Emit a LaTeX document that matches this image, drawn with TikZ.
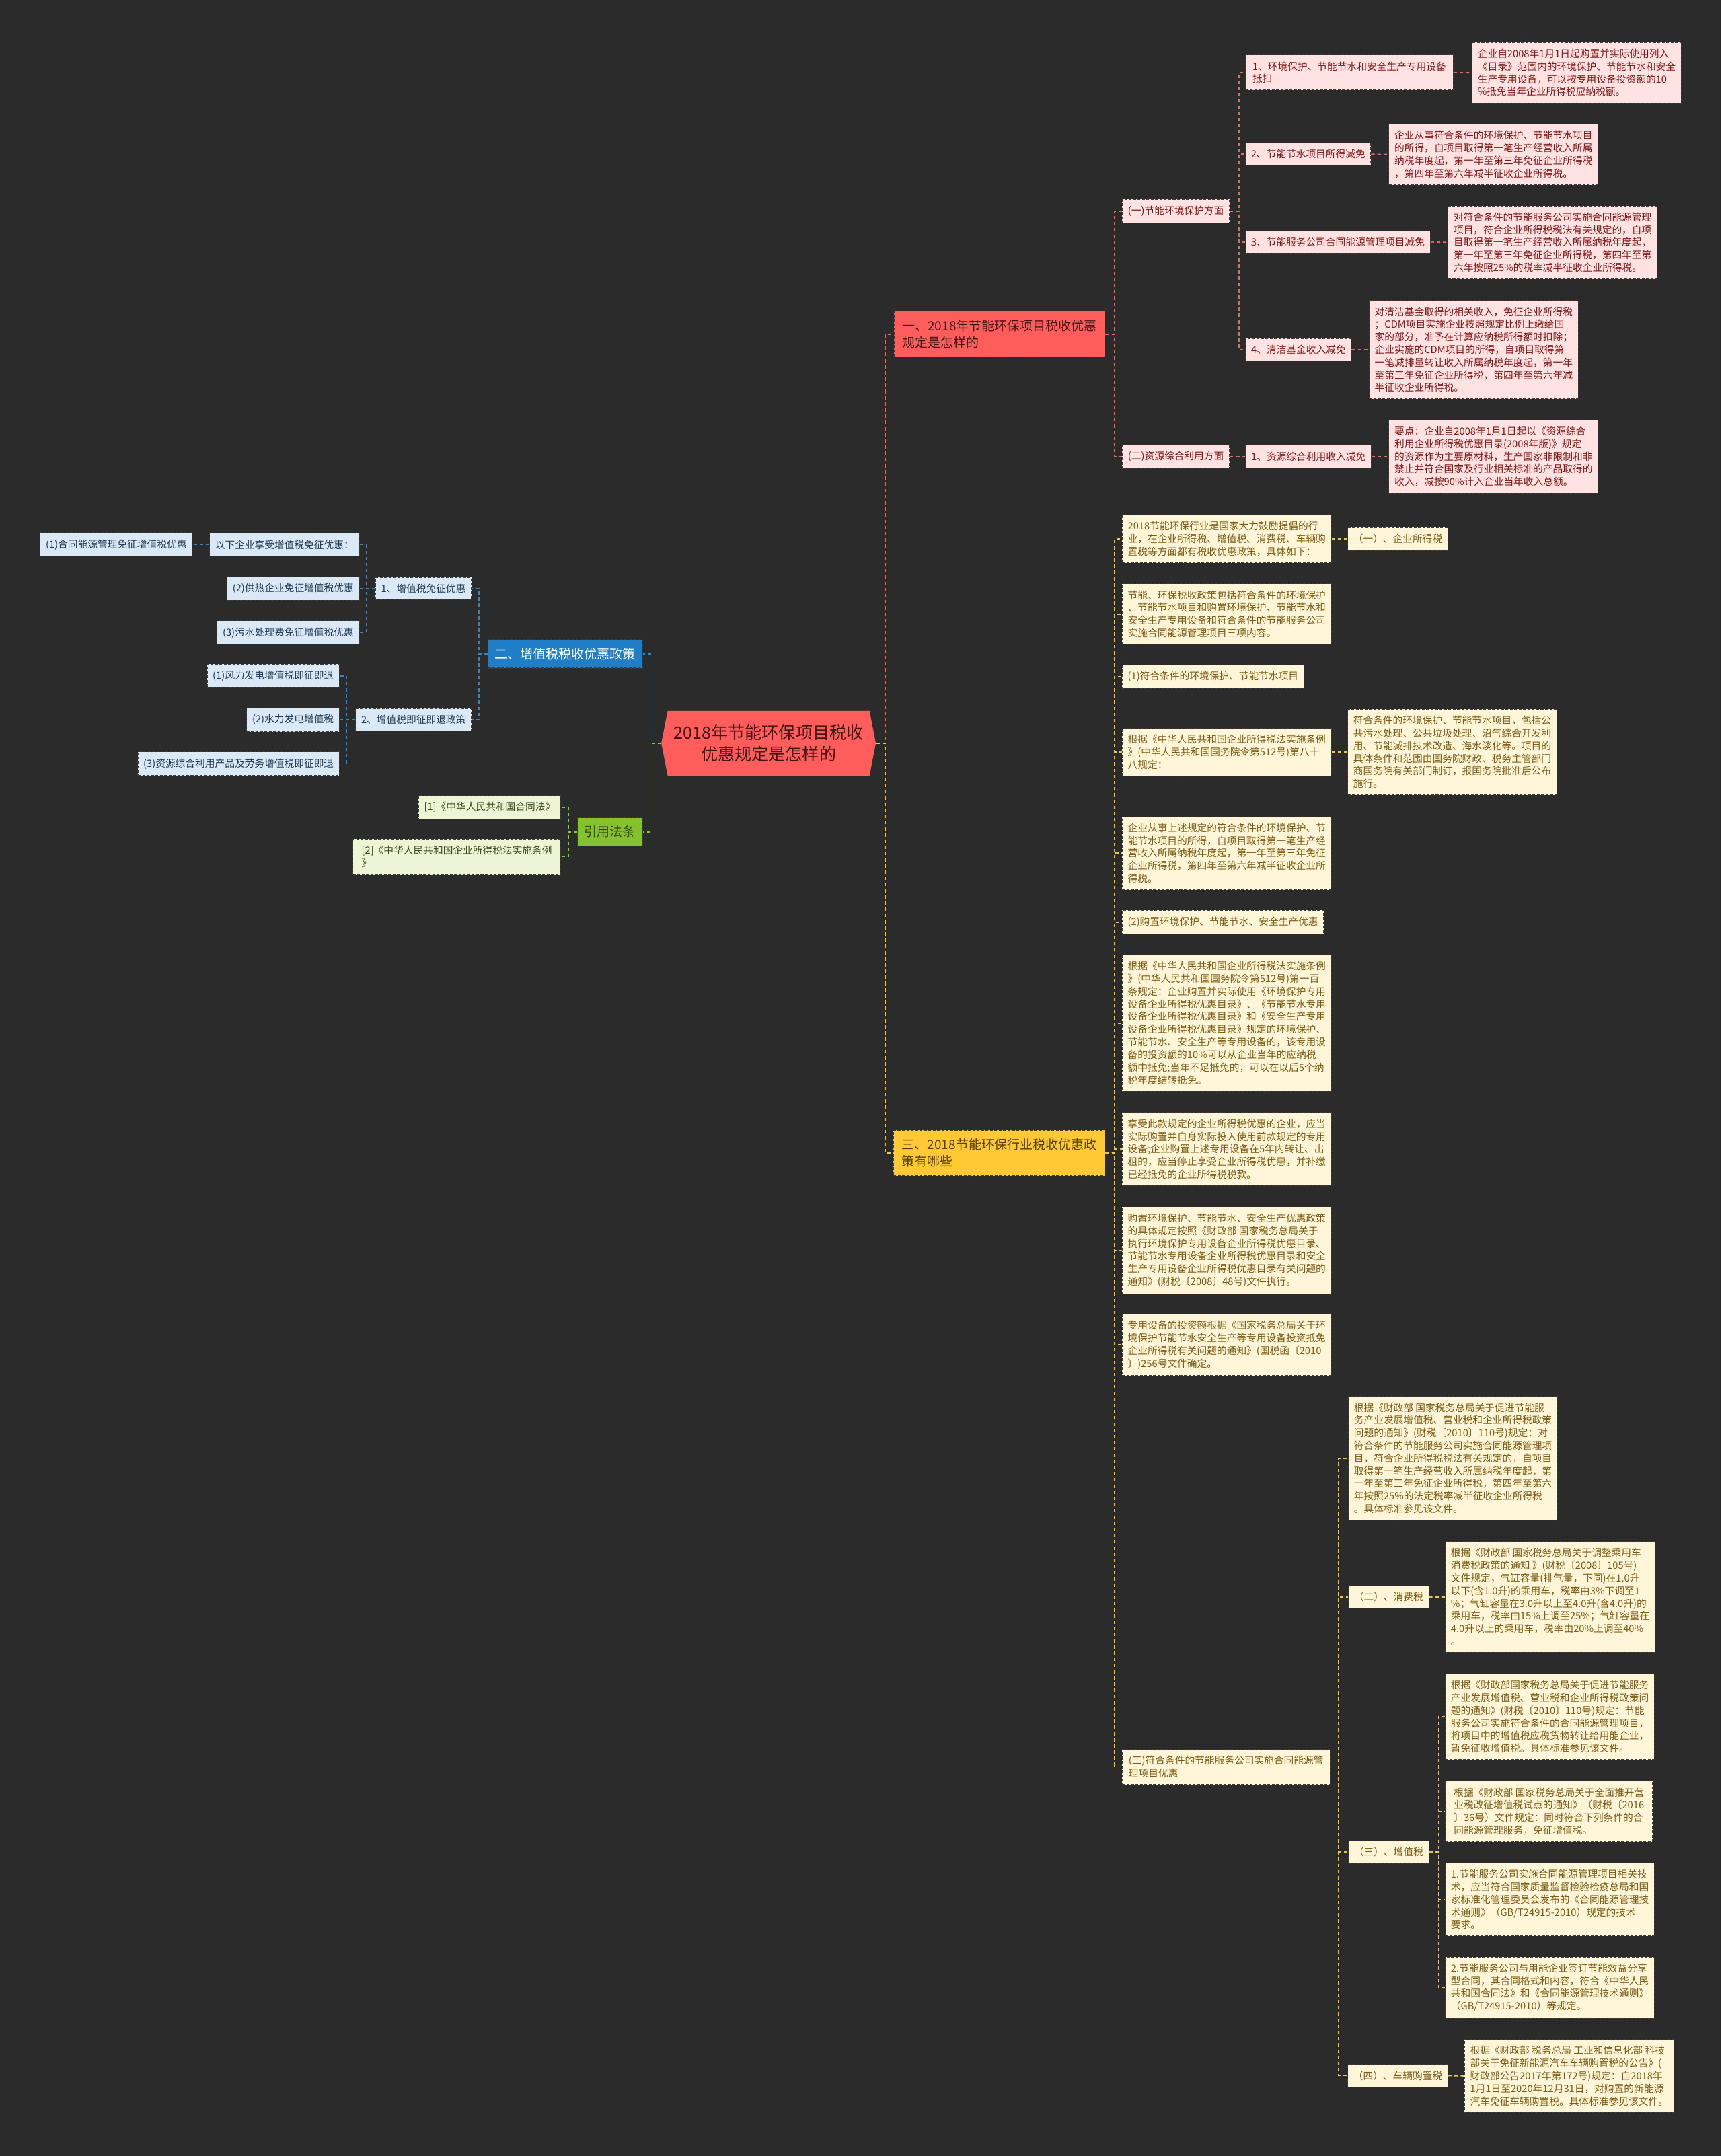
\documentclass[tikz,border=0pt]{standalone}
\usepackage{fontspec}
\setmainfont{Noto Sans CJK SC}
\usepackage{tikz}
\usetikzlibrary{shapes.symbols}

\definecolor{bgdark}{HTML}{2B2B2B}
\definecolor{boxedge}{HTML}{3A3A3A}
\definecolor{rootfill}{HTML}{FF5C5C}
\definecolor{rootink}{HTML}{3E1414}
\definecolor{pinkfill}{HTML}{FFE3E3}
\definecolor{pinkink}{HTML}{7E1818}
\definecolor{pinkline}{HTML}{E36A6A}
\definecolor{bluetop}{HTML}{1F7EC7}
\definecolor{bluefill}{HTML}{DAE9F5}
\definecolor{blueink}{HTML}{1E3A56}
\definecolor{blueline}{HTML}{2E86CC}
\definecolor{greentop}{HTML}{86C22F}
\definecolor{greenfill}{HTML}{EEF5D6}
\definecolor{greenink}{HTML}{3A4A18}
\definecolor{greenline}{HTML}{8DC63F}
\definecolor{yellowtop}{HTML}{FFC935}
\definecolor{yellowfill}{HTML}{FFF6DA}
\definecolor{yellowink}{HTML}{7A5B12}
\definecolor{yellowline}{HTML}{EAC64A}

\newcommand{\leaftext}{\fontsize{7.2}{9.2}\selectfont}
\newcommand{\topictext}{\fontsize{9.3}{12.5}\selectfont}
\newcommand{\roottext}{\fontsize{12.3}{15.5}\selectfont}

\begin{document}
\begin{tikzpicture}[
        x=1pt, y=-1pt,
        box/.style={rectangle, draw=boxedge, dash pattern=on 2pt off 1.2pt, line width=0.5pt,
            inner xsep=4pt, inner ysep=4.8pt, align=left, font=\leaftext},
        pinkbox/.style={box, fill=pinkfill, text=pinkink},
        bluebox/.style={box, fill=bluefill, text=blueink},
        greenbox/.style={box, fill=greenfill, text=greenink},
        yellowbox/.style={box, fill=yellowfill, text=yellowink},
        topic/.style={box, inner xsep=5pt, inner ysep=6pt, font=\topictext},
        rootbox/.style={shape=signal, signal to=east and west, signal pointer angle=158,
            fill=rootfill, text=rootink, font=\roottext, align=center,
            minimum width=156, minimum height=47, inner sep=2pt},
        link/.style={line width=0.9pt, dash pattern=on 2.5pt off 2pt},
        pinklink/.style={link, draw=pinkline},
        bluelink/.style={link, draw=blueline},
        greenlink/.style={link, draw=greenline},
        yellowlink/.style={link, draw=yellowline}
    ]
        \fill[bgdark] (0,0) rectangle (1252,1568);
        \useasboundingbox (0,0) rectangle (1252,1568);

        % centre
        \node[rootbox] (root) at (559,540.5) {2018年节能环保项目税收\\优惠规定是怎样的};

        % main branches
        \node[topic, fill=rootfill, text=rootink, minimum width=153.5, anchor=west] (b1) at (650,243) {一、2018年节能环保项目税收优惠\\规定是怎样的};
        \node[topic, fill=yellowtop, text=yellowink!70!black, minimum width=154, anchor=west] (b3) at (649.5,838.5) {三、2018节能环保行业税收优惠政\\策有哪些};
        \node[topic, fill=bluetop, text=white, minimum width=111, anchor=east] (b2) at (467.5,475.5) {二、增值税税收优惠政策};
        \node[topic, fill=greentop, text=greenink, minimum width=46.5, anchor=east] (b4) at (467.5,605) {引用法条};

        % branch 1
        \node[pinkbox, minimum width=78, anchor=west] (s1) at (816,153.6) {(一)节能环境保护方面};
        \node[pinkbox, minimum width=78, anchor=west] (s2) at (816,332) {(二)资源综合利用方面};

        \node[pinkbox, minimum width=151, anchor=west] (n11) at (905.6,52.8) {1、环境保护、节能节水和安全生产专用设备\\抵扣};
        \node[pinkbox, minimum width=150.5, anchor=west] (l11) at (1070.5,52.9) {企业自2008年1月1日起购置并实际使用列入\\《目录》范围内的环境保护、节能节水和安全\\生产专用设备，可以按专用设备投资额的10\\\%抵免当年企业所得税应纳税额。};
        \node[pinkbox, minimum width=91, anchor=west] (n12) at (905.6,112.2) {2、节能节水项目所得减免};
        \node[pinkbox, minimum width=151, anchor=west] (l12) at (1010,112.3) {企业从事符合条件的环境保护、节能节水项目\\的所得，自项目取得第一笔生产经营收入所属\\纳税年度起，第一年至第三年免征企业所得税\\，第四年至第六年减半征收企业所得税。};
        \node[pinkbox, minimum width=134, anchor=west] (n13) at (905.6,176) {3、节能服务公司合同能源管理项目减免};
        \node[pinkbox, minimum width=150.7, anchor=west] (l13) at (1053,176.3) {对符合条件的节能服务公司实施合同能源管理\\项目，符合企业所得税税法有关规定的，自项\\目取得第一笔生产经营收入所属纳税年度起，\\第一年至第三年免征企业所得税，第四年至第\\六年按照25\%的税率减半征收企业所得税。};
        \node[pinkbox, minimum width=76, anchor=west] (n14) at (905.8,254.3) {4、清洁基金收入减免};
        \node[pinkbox, minimum width=150.4, anchor=west] (l14) at (995.6,254.3) {对清洁基金取得的相关收入，免征企业所得税\\；CDM项目实施企业按照规定比例上缴给国\\家的部分，准予在计算应纳税所得额时扣除；\\企业实施的CDM项目的所得，自项目取得第\\一笔减排量转让收入所属纳税年度起，第一年\\至第三年免征企业所得税，第四年至第六年减\\半征收企业所得税。};
        \node[pinkbox, minimum width=91, anchor=west] (n21) at (905.8,332) {1、资源综合利用收入减免};
        \node[pinkbox, minimum width=151, anchor=west] (l21) at (1010,332) {要点：企业自2008年1月1日起以《资源综合\\利用企业所得税优惠目录(2008年版)》规定\\的资源作为主要原材料，生产国家非限制和非\\禁止并符合国家及行业相关标准的产品取得的\\收入，减按90\%计入企业当年收入总额。};

        % branch 2
        \node[bluebox, minimum width=69, anchor=east] (v1) at (343,428) {1、增值税免征优惠};
        \node[bluebox, minimum width=83, anchor=east] (v2) at (343,523.5) {2、增值税即征即退政策};
        \node[bluebox, minimum width=108.5, anchor=east] (v11) at (261.5,396) {以下企业享受增值税免征优惠：};
        \node[bluebox, minimum width=95.5, anchor=east] (v12) at (261.5,428) {(2)供热企业免征增值税优惠};
        \node[bluebox, minimum width=103, anchor=east] (v13) at (261.5,460) {(3)污水处理费免征增值税优惠};
        \node[bluebox, minimum width=110, anchor=east] (v111) at (140,396) {(1)合同能源管理免征增值税优惠};
        \node[bluebox, minimum width=96, anchor=east] (v21) at (247,491.5) {(1)风力发电增值税即征即退};
        \node[bluebox, minimum width=67, anchor=east] (v22) at (247,523.5) {(2)水力发电增值税};
        \node[bluebox, minimum width=146, anchor=east] (v23) at (247,555.5) {(3)资源综合利用产品及劳务增值税即征即退};

        % cited laws
        \node[greenbox, minimum width=103, anchor=east] (g1) at (408,587) {[1]《中华人民共和国合同法》};
        \node[greenbox, minimum width=151, anchor=east] (g2) at (408,623) {[2]《中华人民共和国企业所得税法实施条例\\》};

        % branch 3
        \node[yellowbox, minimum width=151, anchor=west] (c1) at (816,392) {2018节能环保行业是国家大力鼓励提倡的行\\业，在企业所得税、增值税、消费税、车辆购\\置税等方面都有税收优惠政策，具体如下：};
        \node[yellowbox, minimum width=72, anchor=west] (c1a) at (980,392) {（一）、企业所得税};
        \node[yellowbox, minimum width=151, anchor=west] (c2) at (816,446.5) {节能、环保税收政策包括符合条件的环境保护\\、节能节水项目和购置环境保护、节能节水和\\安全生产专用设备和符合条件的节能服务公司\\实施合同能源管理项目三项内容。};
        \node[yellowbox, minimum width=131, anchor=west] (c3) at (816,492) {(1)符合条件的环境保护、节能节水项目};
        \node[yellowbox, minimum width=151, anchor=west] (c4) at (816,547) {根据《中华人民共和国企业所得税法实施条例\\》(中华人民共和国国务院令第512号)第八十\\八规定：};
        \node[yellowbox, minimum width=151, anchor=west] (c4a) at (980,547) {符合条件的环境保护、节能节水项目，包括公\\共污水处理、公共垃圾处理、沼气综合开发利\\用、节能减排技术改造、海水淡化等。项目的\\具体条件和范围由国务院财政、税务主管部门\\商国务院有关部门制订，报国务院批准后公布\\施行。};
        \node[yellowbox, minimum width=151, anchor=west] (c5) at (816,620.5) {企业从事上述规定的符合条件的环境保护、节\\能节水项目的所得，自项目取得第一笔生产经\\营收入所属纳税年度起，第一年至第三年免征\\企业所得税，第四年至第六年减半征收企业所\\得税。};
        \node[yellowbox, minimum width=146, anchor=west] (c6) at (816,670.7) {(2)购置环境保护、节能节水、安全生产优惠};
        \node[yellowbox, minimum width=151, anchor=west] (c7) at (816,744) {根据《中华人民共和国企业所得税法实施条例\\》(中华人民共和国国务院令第512号)第一百\\条规定：企业购置并实际使用《环境保护专用\\设备企业所得税优惠目录》、《节能节水专用\\设备企业所得税优惠目录》和《安全生产专用\\设备企业所得税优惠目录》规定的环境保护、\\节能节水、安全生产等专用设备的，该专用设\\备的投资额的10\%可以从企业当年的应纳税\\额中抵免;当年不足抵免的，可以在以后5个纳\\税年度结转抵免。};
        \node[yellowbox, minimum width=151, anchor=west] (c8) at (816,835.7) {享受此款规定的企业所得税优惠的企业，应当\\实际购置并自身实际投入使用前款规定的专用\\设备;企业购置上述专用设备在5年内转让、出\\租的，应当停止享受企业所得税优惠，并补缴\\已经抵免的企业所得税税款。};
        \node[yellowbox, minimum width=151, anchor=west] (c9) at (816,909.3) {购置环境保护、节能节水、安全生产优惠政策\\的具体规定按照《财政部 国家税务总局关于\\执行环境保护专用设备企业所得税优惠目录、\\节能节水专用设备企业所得税优惠目录和安全\\生产专用设备企业所得税优惠目录有关问题的\\通知》(财税〔2008〕48号)文件执行。};
        \node[yellowbox, minimum width=151, anchor=west] (c10) at (816,978) {专用设备的投资额根据《国家税务总局关于环\\境保护节能节水安全生产等专用设备投资抵免\\企业所得税有关问题的通知》(国税函〔2010\\〕)256号文件确定。};
        \node[yellowbox, minimum width=151, anchor=west] (c11) at (816,1285) {(三)符合条件的节能服务公司实施合同能源管\\理项目优惠};

        \node[yellowbox, minimum width=150, anchor=west] (d1) at (980.5,1060.5) {根据《财政部 国家税务总局关于促进节能服\\务产业发展增值税、营业税和企业所得税政策\\问题的通知》(财税〔2010〕110号)规定：对\\符合条件的节能服务公司实施合同能源管理项\\目，符合企业所得税税法有关规定的，自项目\\取得第一笔生产经营收入所属纳税年度起，第\\一年至第三年免征企业所得税，第四年至第六\\年按照25\%的法定税率减半征收企业所得税\\。具体标准参见该文件。};
        \node[yellowbox, minimum width=57, anchor=west] (d2) at (980.5,1161.5) {（二）、消费税};
        \node[yellowbox, minimum width=150.7, anchor=west] (d2a) at (1051,1161.4) {根据《财政部 国家税务总局关于调整乘用车\\消费税政策的通知 》(财税〔2008〕105号)\\文件规定，气缸容量(排气量，下同)在1.0升\\以下(含1.0升)的乘用车，税率由3\%下调至1\\\%；气缸容量在3.0升以上至4.0升(含4.0升)的\\乘用车，税率由15\%上调至25\%；气缸容量在\\4.0升以上的乘用车，税率由20\%上调至40\%\\。};
        \node[yellowbox, minimum width=57, anchor=west] (d3) at (980.5,1347) {（三）、增值税};
        \node[yellowbox, minimum width=150.7, anchor=west] (e1) at (1051,1248.6) {根据《财政部国家税务总局关于促进节能服务\\产业发展增值税、营业税和企业所得税政策问\\题的通知》(财税〔2010〕110号)规定：节能\\服务公司实施符合条件的合同能源管理项目，\\将项目中的增值税应税货物转让给用能企业，\\暂免征收增值税。具体标准参见该文件。};
        \node[yellowbox, minimum width=150.7, anchor=west] (e2) at (1051,1317.4) {根据《财政部 国家税务总局关于全面推开营\\业税改征增值税试点的通知》（财税〔2016\\〕36号）文件规定：同时符合下列条件的合\\同能源管理服务，免征增值税。};
        \node[yellowbox, minimum width=150.7, anchor=west] (e3) at (1051,1381.4) {1.节能服务公司实施合同能源管理项目相关技\\术，应当符合国家质量监督检验检疫总局和国\\家标准化管理委员会发布的《合同能源管理技\\术通则》（GB/T24915-2010）规定的技术\\要求。};
        \node[yellowbox, minimum width=150.7, anchor=west] (e4) at (1051,1445.5) {2.节能服务公司与用能企业签订节能效益分享\\型合同，其合同格式和内容，符合《中华人民\\共和国合同法》和《合同能源管理技术通则》\\（GB/T24915-2010）等规定。};
        \node[yellowbox, minimum width=72, anchor=west] (d4) at (980,1509.5) {（四）、车辆购置税};
        \node[yellowbox, minimum width=151.3, anchor=west] (d4a) at (1065,1509.7) {根据《财政部 税务总局 工业和信息化部 科技\\部关于免征新能源汽车车辆购置税的公告》(\\财政部公告2017年第172号)规定：自2018年\\1月1日至2020年12月31日，对购置的新能源\\汽车免征车辆购置税。具体标准参见该文件。};

        % connectors from the centre
        \draw[pinklink] (root.east) -- ++(6.5,0) |- (b1.west);
        \draw[yellowlink] (root.east) -- ++(6.5,0) |- (b3.west);
        \draw[bluelink] (root.west) -- ++(-6.5,0) |- (b2.east);
        \draw[greenlink] (root.west) -- ++(-6.5,0) |- (b4.east);

        % branch 1 connectors
        \draw[pinklink] (b1.east) -- ++(6.5,0) |- (s1.west);
        \draw[pinklink] (b1.east) -- ++(6.5,0) |- (s2.west);
        \draw[pinklink] (s1.east) -- ++(6.5,0) |- (n11.west);
        \draw[pinklink] (s1.east) -- ++(6.5,0) |- (n12.west);
        \draw[pinklink] (s1.east) -- ++(6.5,0) |- (n13.west);
        \draw[pinklink] (s1.east) -- ++(6.5,0) |- (n14.west);
        \draw[pinklink] (s2.east) -- (n21.west);
        \draw[pinklink] (n11.east) -- (l11.west);
        \draw[pinklink] (n12.east) -- (l12.west);
        \draw[pinklink] (n13.east) -- (l13.west);
        \draw[pinklink] (n14.east) -- (l14.west);
        \draw[pinklink] (n21.east) -- (l21.west);

        % branch 2 connectors
        \draw[bluelink] (b2.west) -- ++(-6.5,0) |- (v1.east);
        \draw[bluelink] (b2.west) -- ++(-6.5,0) |- (v2.east);
        \draw[bluelink] (v1.west) -- ++(-6.5,0) |- (v11.east);
        \draw[bluelink] (v1.west) -- ++(-6.5,0) |- (v12.east);
        \draw[bluelink] (v1.west) -- ++(-6.5,0) |- (v13.east);
        \draw[bluelink] (v11.west) -- (v111.east);
        \draw[bluelink] (v2.west) -- ++(-6.5,0) |- (v21.east);
        \draw[bluelink] (v2.west) -- ++(-6.5,0) |- (v22.east);
        \draw[bluelink] (v2.west) -- ++(-6.5,0) |- (v23.east);

        % cited laws connectors
        \draw[greenlink] (b4.west) -- ++(-6.5,0) |- (g1.east);
        \draw[greenlink] (b4.west) -- ++(-6.5,0) |- (g2.east);

        % branch 3 connectors
        \draw[yellowlink] (b3.east) -- ++(6.5,0) |- (c1.west);
        \draw[yellowlink] (b3.east) -- ++(6.5,0) |- (c2.west);
        \draw[yellowlink] (b3.east) -- ++(6.5,0) |- (c3.west);
        \draw[yellowlink] (b3.east) -- ++(6.5,0) |- (c4.west);
        \draw[yellowlink] (b3.east) -- ++(6.5,0) |- (c5.west);
        \draw[yellowlink] (b3.east) -- ++(6.5,0) |- (c6.west);
        \draw[yellowlink] (b3.east) -- ++(6.5,0) |- (c7.west);
        \draw[yellowlink] (b3.east) -- ++(6.5,0) |- (c8.west);
        \draw[yellowlink] (b3.east) -- ++(6.5,0) |- (c9.west);
        \draw[yellowlink] (b3.east) -- ++(6.5,0) |- (c10.west);
        \draw[yellowlink] (b3.east) -- ++(6.5,0) |- (c11.west);
        \draw[yellowlink] (c1.east) -- (c1a.west);
        \draw[yellowlink] (c4.east) -- (c4a.west);
        \draw[yellowlink] (c11.east) -- ++(6,0) |- (d1.west);
        \draw[yellowlink] (c11.east) -- ++(6,0) |- (d2.west);
        \draw[yellowlink] (c11.east) -- ++(6,0) |- (d3.west);
        \draw[yellowlink] (c11.east) -- ++(6,0) |- (d4.west);
        \draw[yellowlink] (d2.east) -- (d2a.west);
        \draw[yellowlink] (d3.east) -- ++(6.8,0) |- (e1.west);
        \draw[yellowlink] (d3.east) -- ++(6.8,0) |- (e2.west);
        \draw[yellowlink] (d3.east) -- ++(6.8,0) |- (e3.west);
        \draw[yellowlink] (d3.east) -- ++(6.8,0) |- (e4.west);
        \draw[yellowlink] (d4.east) -- (d4a.west);
    \end{tikzpicture}
\end{document}
